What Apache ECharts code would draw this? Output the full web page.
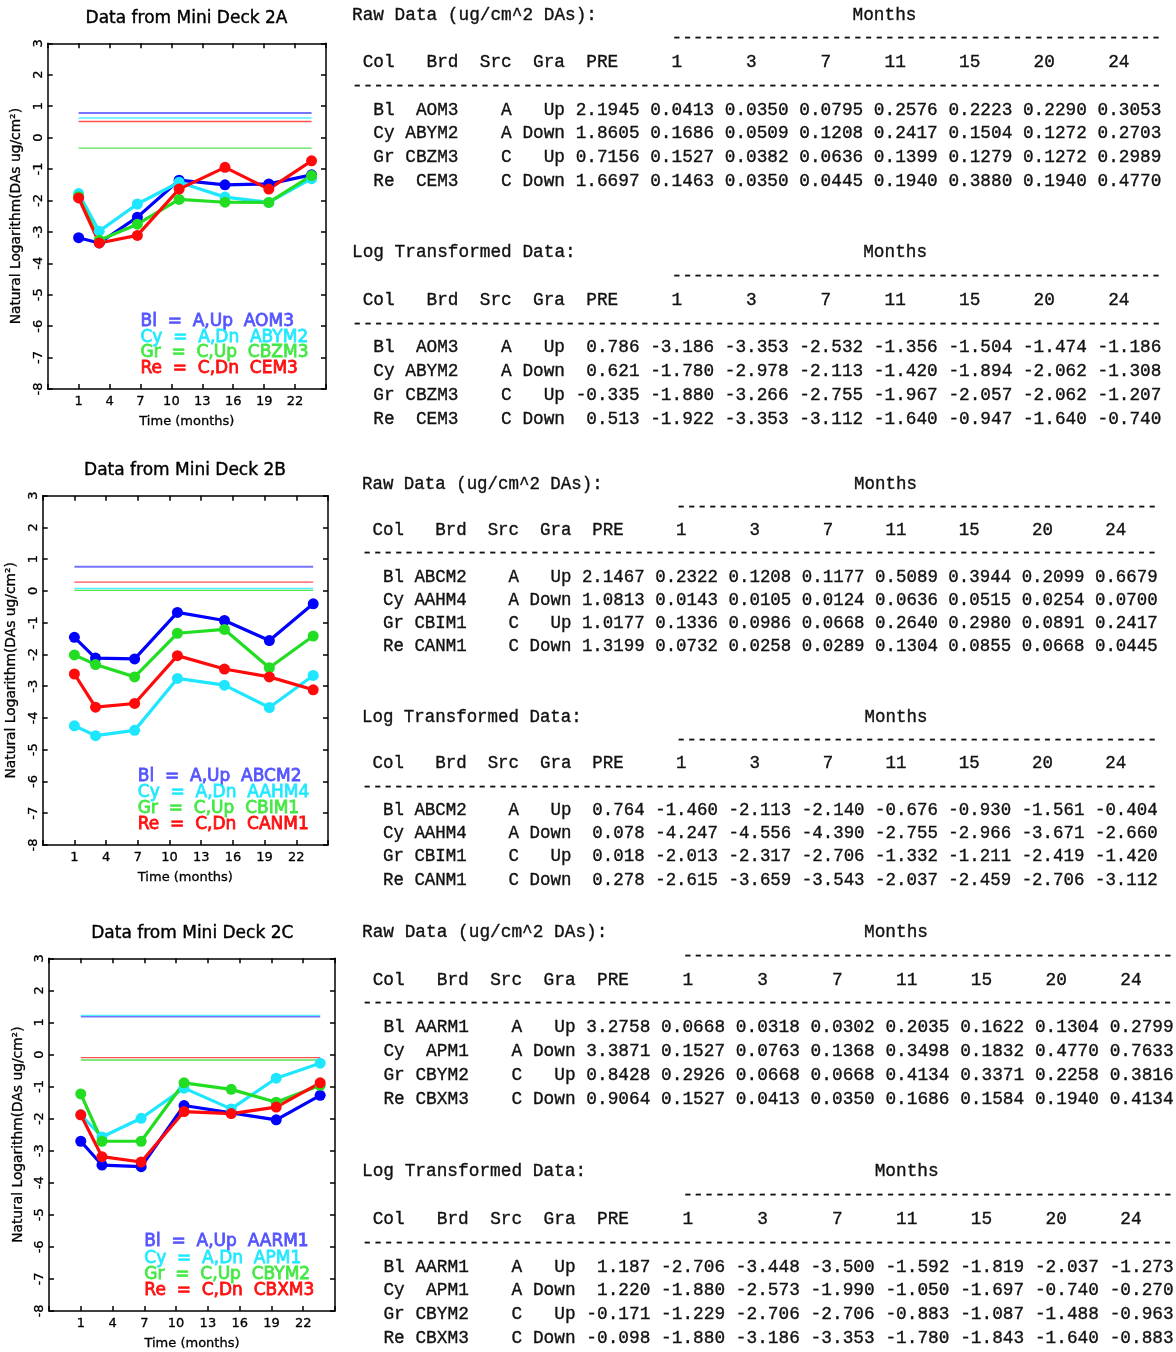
<!DOCTYPE html>
<html>
<head>
<meta charset="utf-8">
<script src="https://cdn.jsdelivr.net/npm/echarts@6/dist/echarts.min.js"></script>
<style>html,body{margin:0;padding:0;background:#fff}#c{width:1176px;height:1352px}</style>
</head>
<body>
<div id="c"></div>
<script>
// ---------------- DATA ----------------
const months = [1, 3, 6.7, 10.75, 15.2, 19.45, 23.6];      // plotted sampling time (months)
const monthLabels = ['1', '3', '7', '11', '15', '20', '24']; // table header labels
const xMin = -2, xMax = 25, xStep = 3;
const yMin = -8, yMax = 3, yStep = 1;
const colNames = ['Bl', 'Cy', 'Gr', 'Re'];
const srcs = ['A', 'A', 'C', 'C'];
const gras = ['Up', 'Down', 'Up', 'Down'];
const legendCodes = ['A,Up', 'A,Dn', 'C,Up', 'C,Dn'];
const deckTitles = ['Data from Mini Deck 2A', 'Data from Mini Deck 2B', 'Data from Mini Deck 2C'];

const brdA = ['AOM3', 'ABYM2', 'CBZM3', 'CEM3'];
const preRawA = [2.1945, 1.8605, 0.7156, 1.6697];
const rawA = [
  [0.0413, 0.0350, 0.0795, 0.2576, 0.2223, 0.2290, 0.3053],
  [0.1686, 0.0509, 0.1208, 0.2417, 0.1504, 0.1272, 0.2703],
  [0.1527, 0.0382, 0.0636, 0.1399, 0.1279, 0.1272, 0.2989],
  [0.1463, 0.0350, 0.0445, 0.1940, 0.3880, 0.1940, 0.4770]
];
const preLogA = [0.786, 0.621, -0.335, 0.513];
const logA = [
  [-3.186, -3.353, -2.532, -1.356, -1.504, -1.474, -1.186],
  [-1.780, -2.978, -2.113, -1.420, -1.894, -2.062, -1.308],
  [-1.880, -3.266, -2.755, -1.967, -2.057, -2.062, -1.207],
  [-1.922, -3.353, -3.112, -1.640, -0.947, -1.640, -0.740]
];

const brdB = ['ABCM2', 'AAHM4', 'CBIM1', 'CANM1'];
const preRawB = [2.1467, 1.0813, 1.0177, 1.3199];
const rawB = [
  [0.2322, 0.1208, 0.1177, 0.5089, 0.3944, 0.2099, 0.6679],
  [0.0143, 0.0105, 0.0124, 0.0636, 0.0515, 0.0254, 0.0700],
  [0.1336, 0.0986, 0.0668, 0.2640, 0.2980, 0.0891, 0.2417],
  [0.0732, 0.0258, 0.0289, 0.1304, 0.0855, 0.0668, 0.0445]
];
const preLogB = [0.764, 0.078, 0.018, 0.278];
const logB = [
  [-1.460, -2.113, -2.140, -0.676, -0.930, -1.561, -0.404],
  [-4.247, -4.556, -4.390, -2.755, -2.966, -3.671, -2.660],
  [-2.013, -2.317, -2.706, -1.332, -1.211, -2.419, -1.420],
  [-2.615, -3.659, -3.543, -2.037, -2.459, -2.706, -3.112]
];

const brdC = ['AARM1', 'APM1', 'CBYM2', 'CBXM3'];
const preRawC = [3.2758, 3.3871, 0.8428, 0.9064];
const rawC = [
  [0.0668, 0.0318, 0.0302, 0.2035, 0.1622, 0.1304, 0.2799],
  [0.1527, 0.0763, 0.1368, 0.3498, 0.1832, 0.4770, 0.7633],
  [0.2926, 0.0668, 0.0668, 0.4134, 0.3371, 0.2258, 0.3816],
  [0.1527, 0.0413, 0.0350, 0.1686, 0.1584, 0.1940, 0.4134]
];
const preLogC = [1.187, 1.220, -0.171, -0.098];
const logC = [
  [-2.706, -3.448, -3.500, -1.592, -1.819, -2.037, -1.273],
  [-1.880, -2.573, -1.990, -1.050, -1.697, -0.740, -0.270],
  [-1.229, -2.706, -2.706, -0.883, -1.087, -1.488, -0.963],
  [-1.880, -3.186, -3.353, -1.780, -1.843, -1.640, -0.883]
];

// ---------------- LAYOUT / STYLE ----------------
const panels = [
  {brd: brdA, preRaw: preRawA, raw: rawA, preLog: preLogA, log: logA},
  {brd: brdB, preRaw: preRawB, raw: rawB, preLog: preLogB, log: logB},
  {brd: brdC, preRaw: preRawC, raw: rawC, preLog: preLogC, log: logC}
];
const layout = [
  {grid: {left: 47.7, top: 43.3, width: 278.3, height: 345.7}, titleX: 186.5, titleY: 18.7,
   tx: 352, cw: 10.65, lh: 23.75, rawY: 15, logY: 252.7},
  {grid: {left: 42.7, top: 495.7, width: 285.3, height: 349.3}, titleX: 185, titleY: 470.7,
   tx: 362, cw: 10.47, lh: 23.25, rawY: 484, logY: 717.3},
  {grid: {left: 49, top: 958.3, width: 286, height: 352.7}, titleX: 192.3, titleY: 933.3,
   tx: 362, cw: 10.68, lh: 23.8, rawY: 932.3, logY: 1171.7}
];
const lineColors = ['#0000ff', '#1ee6ff', '#22dd22', '#ff0a0a'];
const preColors = ['#7474ff', '#50f0ff', '#55e055', '#ff5050'];
const legendColors = ['#5555ff', '#22e8ff', '#44e844', '#ff1010'];
const legendAt = {x: 7, y: [-5.85, -6.35, -6.85, -7.35]};
const SANS = 'DejaVu Sans';
const MONO = 'Liberation Mono';

const chart = echarts.init(document.getElementById('c'), null, {width: 1176, height: 1352});

const grids = [], xAxes = [], yAxes = [], series = [];
layout.forEach((L, p) => {
  grids.push(Object.assign({containLabel: false}, L.grid));
  const lineStyle = {color: '#000', width: 1.5};
  xAxes.push({
    type: 'value', gridIndex: p, position: 'bottom', min: xMin, max: xMax, interval: xStep,
    axisLine: {show: true, onZero: false, lineStyle}, axisTick: {show: true, inside: true, length: 5, lineStyle},
    splitLine: {show: false},
    axisLabel: {color: '#000', fontSize: 13, fontFamily: SANS, margin: 6,
      textBorderColor: '#000', textBorderWidth: 0.3,
      formatter: v => (v === xMin || v === xMax) ? '' : String(v)},
    name: 'Time (months)', nameLocation: 'middle', nameGap: 26,
    nameTextStyle: {color: '#000', fontSize: 13, fontFamily: SANS, textBorderColor: '#000', textBorderWidth: 0.3}
  });
  xAxes.push({
    type: 'value', gridIndex: p, position: 'top', min: xMin, max: xMax, interval: xStep,
    axisLine: {show: true, onZero: false, lineStyle}, axisTick: {show: true, inside: true, length: 5, lineStyle},
    splitLine: {show: false}, axisLabel: {show: false}
  });
  yAxes.push({
    type: 'value', gridIndex: p, position: 'left', min: yMin, max: yMax, interval: yStep,
    axisLine: {show: true, onZero: false, lineStyle}, axisTick: {show: true, inside: true, length: 5, lineStyle},
    splitLine: {show: false},
    axisLabel: {color: '#000', fontSize: 13, fontFamily: SANS, rotate: 90, margin: 3,
      textBorderColor: '#000', textBorderWidth: 0.3},
    name: 'Natural Logarithm(DAs ug/cm²)', nameLocation: 'middle', nameRotate: 90, nameGap: 24,
    nameTextStyle: {color: '#000', fontSize: 13.8, fontFamily: SANS, textBorderColor: '#000', textBorderWidth: 0.3}
  });
  yAxes.push({
    type: 'value', gridIndex: p, position: 'right', min: yMin, max: yMax, interval: yStep,
    axisLine: {show: true, onZero: false, lineStyle}, axisTick: {show: true, inside: true, length: 5, lineStyle},
    splitLine: {show: false}, axisLabel: {show: false}
  });
  const P = panels[p];
  // PRE reference lines
  P.preLog.forEach((v, i) => {
    series.push({
      type: 'line', xAxisIndex: 2 * p, yAxisIndex: 2 * p, name: colNames[i] + ' PRE',
      data: [[months[0], v], [months[months.length - 1], v]],
      showSymbol: false, symbol: 'none', silent: true,
      lineStyle: {color: preColors[i], width: i === 0 ? 2 : 1.4}
    });
  });
  // time series
  P.log.forEach((row, i) => {
    series.push({
      type: 'line', xAxisIndex: 2 * p, yAxisIndex: 2 * p, name: colNames[i],
      data: months.map((m, j) => [m, row[j]]),
      symbol: 'circle', symbolSize: 11, silent: true,
      lineStyle: {color: lineColors[i], width: 3.2},
      itemStyle: {color: lineColors[i]}
    });
  });
});

chart.setOption({
  animation: false,
  backgroundColor: '#fff',
  grid: grids, xAxis: xAxes, yAxis: yAxes, series: series
});

// ---------------- TEXT (titles, legends, tables) ----------------
const els = [];
let uid = 0;
function txt(x, y, text, family, size, fill, align, strokeW) {
  const style = {text: text, fontFamily: family, fontSize: size, fill: fill,
    textAlign: align || 'left', textVerticalAlign: 'middle'};
  if (strokeW) { style.stroke = fill; style.lineWidth = strokeW; }
  els.push({type: 'text', id: 't' + (uid++), x: x, y: y, silent: true, style: style});
}
function dashes(n) { let s = ''; for (let i = 0; i < n; i++) s += '-'; return s; }

layout.forEach((L, p) => {
  const P = panels[p];
  txt(L.titleX, L.titleY, deckTitles[p], SANS, 17, '#000', 'center', 0.4);
  // in-plot legend text
  colNames.forEach((c, i) => {
    const pt = chart.convertToPixel({gridIndex: p}, [legendAt.x, legendAt.y[i]]);
    txt(pt[0], pt[1], c + '  =  ' + legendCodes[i] + '  ' + P.brd[i], SANS, 17, legendColors[i], 'left', 0.8);
  });
  // tables
  const fs = +(L.cw / 0.6).toFixed(2);
  const ink = '#111';
  const col = c => L.tx + c * L.cw;
  const blocks = [
    {y: L.rawY, title: 'Raw Data (ug/cm^2 DAs):', monthsCol: 47, pre: P.preRaw, vals: P.raw, dec: 4},
    {y: L.logY, title: 'Log Transformed Data:', monthsCol: 48, pre: P.preLog, vals: P.log, dec: 3}
  ];
  const T = (x, y, s, a) => txt(x, y, s, MONO, fs, ink, a, 0.35);
  blocks.forEach(B => {
    const ly = k => B.y + k * L.lh;
    T(col(0), ly(0), B.title);
    T(col(B.monthsCol), ly(0), 'Months');
    T(col(30), ly(1), dashes(46));
    T(col(1), ly(2), 'Col');
    T(col(7), ly(2), 'Brd');
    T(col(12), ly(2), 'Src');
    T(col(17), ly(2), 'Gra');
    T(col(22), ly(2), 'PRE');
    monthLabels.forEach((m, j) => {
      T(col(28 + 7 * j + (m.length === 1 ? 2 : 1)), ly(2), m);
    });
    T(col(0), ly(3), dashes(76));
    colNames.forEach((c, i) => {
      const y = ly(4 + i);
      T(col(4), y, c, 'right');
      T(col(10), y, P.brd[i], 'right');
      T(col(15), y, srcs[i], 'right');
      T(col(20), y, gras[i], 'right');
      T(col(27), y, B.pre[i].toFixed(B.dec), 'right');
      B.vals[i].forEach((v, j) => {
        T(col(34 + 7 * j), y, v.toFixed(B.dec), 'right');
      });
    });
  });
});

chart.setOption({graphic: {elements: els}});
</script>
</body>
</html>
